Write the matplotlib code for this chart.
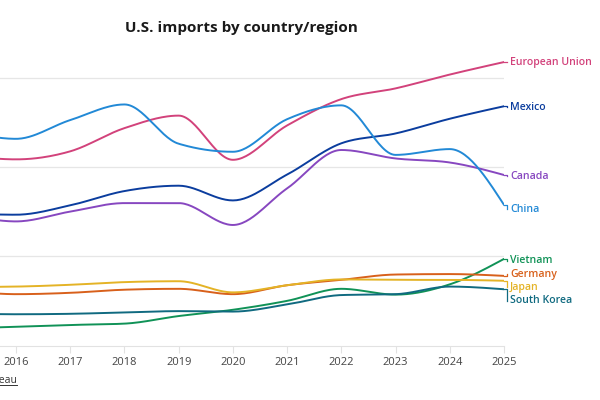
#!/usr/bin/env python
"""U.S. imports by country/region, 2015-2025 (billions USD, goods)."""
import numpy as np
import matplotlib
matplotlib.use("Agg")
import matplotlib.pyplot as plt
from matplotlib.lines import Line2D

years = [2015, 2016, 2017, 2018, 2019, 2020, 2021, 2022, 2023, 2024, 2025]

eu = [427, 417, 435, 487, 515, 416, 493, 552, 576, 607, 635]
mexico = [296, 293, 314, 346, 358, 325, 383, 453, 475, 508, 536]
china = [482, 463, 505, 540, 452, 434, 507, 538, 427, 440, 315]
canada = [296, 278, 300, 319, 319, 270, 352, 438, 419, 410, 382]
vietnam = [38, 42, 46, 49, 66, 80, 100, 127, 114, 137, 194]
germany = [124, 115, 118, 125, 127, 115, 135, 147, 159, 160, 156]
japan = [131, 132, 136, 142, 144, 119, 135, 148, 147, 147, 145]
south_korea = [72, 70, 71, 74, 77, 76, 92, 113, 115, 132, 126]

series_names = ["European Union", "Mexico", "Canada", "China",
                "Vietnam", "Germany", "Japan", "South Korea"]
series_values = [eu, mexico, canada, china, vietnam, germany, japan, south_korea]
colors = ["#d2427b", "#0b3d9e", "#8747c0", "#2289d6",
          "#109257", "#d8601b", "#e4b326", "#106a80"]
# label anchor heights (data units) so labels don't collide
label_y = [635, 534, 379, 305, 190, 160, 130, 100]

y_ticks = [0, 200, 400, 600]
x_ticks = [2016, 2017, 2018, 2019, 2020, 2021, 2022, 2023, 2024, 2025]


def monotone_curve(x, y, n=30):
    """Monotone cubic (d3 curveMonotoneX style) for drawing only."""
    x = np.asarray(x, float)
    y = np.asarray(y, float)
    h = np.diff(x)
    s = np.diff(y) / h
    t = np.zeros_like(y)
    for i in range(1, len(y) - 1):
        p = (s[i - 1] * h[i] + s[i] * h[i - 1]) / (h[i - 1] + h[i])
        t[i] = (np.sign(s[i - 1]) + np.sign(s[i])) * min(abs(s[i - 1]), abs(s[i]), 0.5 * abs(p))
    t[0] = (3 * s[0] - t[1]) / 2
    t[-1] = (3 * s[-1] - t[-2]) / 2
    xs, ys = [], []
    for i in range(len(h)):
        u = np.linspace(0, 1, n)
        h00 = 2 * u**3 - 3 * u**2 + 1
        h10 = u**3 - 2 * u**2 + u
        h01 = -2 * u**3 + 3 * u**2
        h11 = u**3 - u**2
        xs.append(x[i] + u * h[i])
        ys.append(h00 * y[i] + h10 * h[i] * t[i] + h01 * y[i + 1] + h11 * h[i] * t[i + 1])
    return np.concatenate(xs), np.concatenate(ys)


plt.rcParams["font.family"] = ["Open Sans", "DejaVu Sans"]

fig = plt.figure(figsize=(6, 4), dpi=100)
ax = fig.add_axes([0.0, 0.13625, 0.84, 0.73875])

x0 = 2016 - 16 / 54.2
ax.set_xlim(x0, 2025)
ax.set_ylim(0, 662)

for name, vals, c in zip(series_names, series_values, colors):
    xs, ys = monotone_curve(years, vals)
    ax.plot(xs, ys, color=c, lw=1.4, solid_capstyle="round", zorder=3)

for v in y_ticks[1:]:
    ax.axhline(v, color="#e6e6e6", lw=0.9, zorder=1)

for sp in ["top", "right", "left"]:
    ax.spines[sp].set_visible(False)
ax.spines["bottom"].set_color("#e2e2e2")
ax.set_yticks([])
ax.set_xticks(x_ticks)
ax.set_xticklabels([str(y) for y in x_ticks])
ax.tick_params(axis="x", length=5, color="#e2e2e2", labelsize=8, labelcolor="#444444", pad=3)

# end labels with short connectors
for name, vals, c, ly in zip(series_names, series_values, colors, label_y):
    ax.add_line(Line2D([2025, 2025.06, 2025.06], [vals[-1], vals[-1], ly],
                       color=c, lw=0.9, clip_on=False))
    ax.text(2025.11, ly, name, color=c, fontsize=7.6, fontweight="semibold",
            va="center", ha="left", clip_on=False)

fig.text(241 / 600, 1 - 28 / 400, "U.S. imports by country/region",
         ha="center", va="center", fontsize=11, fontweight="bold", color="#1a1a1a")

fig.text(17 / 600, 1 - 383 / 400, "Source: U.S. Census Bureau", ha="right",
         va="baseline", fontsize=7.5, color="#333333")
fig.add_artist(Line2D([0, 17 / 600], [1 - 385 / 400] * 2, color="#333333", lw=0.7))

fig.savefig("out.png", dpi=100)
